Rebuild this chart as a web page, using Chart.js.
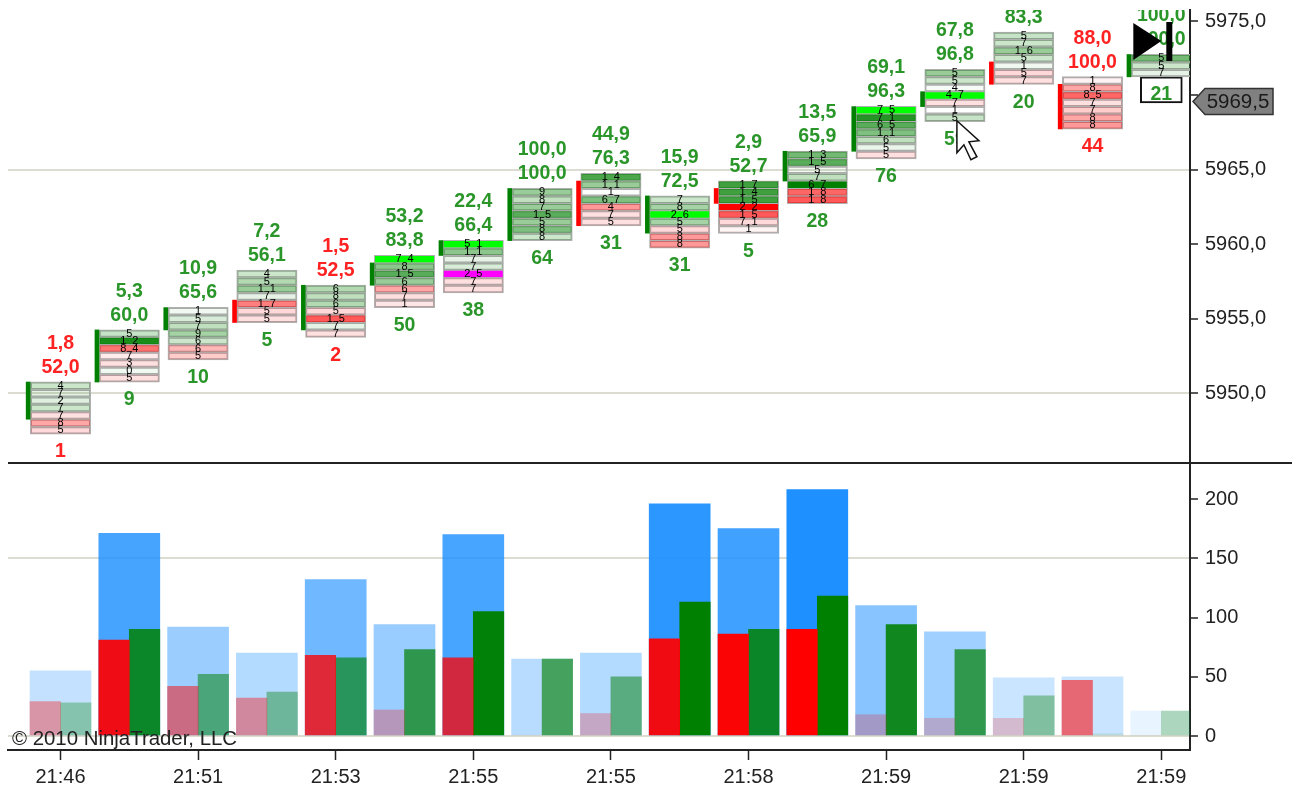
<!DOCTYPE html>
<html><head><meta charset="utf-8">
<style>html,body{margin:0;padding:0;background:#fff;overflow:hidden}canvas{display:block;filter:blur(0.45px)}</style>
<script src="https://cdn.jsdelivr.net/npm/chart.js@4"></script></head>
<body><canvas id="c" width="1292" height="787"></canvas>
<script>
const timeTicks=['21:46','21:51','21:53','21:55','21:55','21:58','21:59','21:59','21:59'];
const priceStep=0.5;
const lastPrice=5969.5;
const topCell=[5950.5,5954,5955.5,5958,5957,5959,5960,5963.5,5964.5,5963,5964,5966,5969,5971.5,5974,5971,5972.5];
const cellShades=[
[.2,.1,.12,.2,-.12,-.35,-.15],
[.22,.9,-.55,-.08,-.12,.05,-.12],
[.05,.15,.25,.35,.2,-.28,-.2],
[.2,.3,.4,.1,-.5,-.15,-.12],
[.3,.25,.3,-.15,-.65,.1,-.12],
['L',.45,.65,.4,-.35,-.12,-.1],
['L',.45,.1,.15,'M',-.12,-.12],
[.4,.25,.4,.65,.4,.5,.2],
[.7,.4,.02,.5,-.4,-.12,-.12],
[.2,.35,'L',.35,-.15,-.4,-.4],
[.75,.75,.75,-1,-.65,-.15,-.04],
[.55,.65,.05,.25,1,-.6,-.65],
['L',.85,.65,.5,.25,.08,-.12],
[.4,.2,.03,'L',-.12,0,.22],
[.22,.2,.4,.2,.06,-.15,-.12],
[-.05,-.35,-.6,-.12,-.2,-.35,-.4],
[.55,.2,.1]];
const cellDigits=[
['4','7','2','7','7','8','5'],
['5','1 2','8 4','7','3','0','5'],
['1','5','7','9','6','6','5'],
['4','5','1 1','7','1 7','5','5'],
['6','8','6','5','1 5','7','7'],
['7 4','8','1 5','6','6','7','1'],
['5 1','1 1','7','7','2 5','7','7'],
['9','8','7','1 5','5','8','8'],
['1 4','1 1','1','6 7','4','7','5'],
['7','8','2 6','5','5','8','8'],
['1 7','1 4','1 5','2 2','1 5','7 1','1'],
['1 3','1 5','5','7','6 7','1 8','1 8'],
['7 5','7 1','6 5','1 1','6','5','5'],
['5','5','4','4 7','7','1','5'],
['5','7','1 6','5','1','5','7'],
['1','8','8 5','7','7','8','8'],
['5','5','7']];
const bodyTop=[5950.75,5954.25,5955.75,5956.25,5957.25,5958.75,5960.25,5963.75,5964.25,5963.25,5963.75,5966.25,5969.25,5970.25,5972.25,5970.75,5972.75];
const bodyBottom=[5948.25,5950.75,5954.25,5954.75,5954.25,5957.25,5959.25,5960.25,5961.25,5960.75,5962.75,5964.25,5966.25,5969.25,5970.75,5967.75,5971.25];
const bodyRed=[0,0,0,1,0,0,0,0,1,0,1,0,0,0,1,1,0];
const labelTop=['1,8','5,3','10,9','7,2','1,5','53,2','22,4','100,0','44,9','15,9','2,9','13,5','69,1','67,8','','88,0','100,0'];
const labelMid=['52,0','60,0','65,6','56,1','52,5','83,8','66,4','100,0','76,3','72,5','52,7','65,9','96,3','96,8','83,3','100,0','100,0'];
const labelLow=['1','9','10','5','2','50','38','64','31','31','5','28','76','59','20','44','21'];
const labelRed=[1,0,0,0,1,0,0,0,0,0,0,0,0,0,0,1,0];
const volTotal=[55,171,92,70,132,94,170,65,70,196,175,208,110,88,49,50,21];
const volRed=[29,81,42,32,68,22,66,1,19,82,86,90,18,15,15,47,0];
const volGreen=[28,90,52,37,66,73,105,65,50,113,90,118,94,73,34,2,21];

const greenA=a=>`rgba(0,128,0,${a})`, redA=a=>`rgba(255,0,0,${a})`;
function shade(s){ if(s==='L')return '#00ff00'; if(s==='M')return '#ff00ff'; return s>=0?greenA(s):redA(-s); }
const cap=v=>Math.min(1,v);
const cells=[],cellFill=[];
topCell.forEach((p,i)=>cellShades[i].forEach((s,k)=>{const c=p-k*priceStep;cells.push({x:i,y:[c-priceStep/2,c+priceStep/2]});cellFill.push(shade(s));}));
const xIdx=topCell.map((_,i)=>i);

const overlay={id:'overlay',
 afterDatasetsDraw(ch){
  const {ctx,chartArea:a,scales:{x,yP,yV}}=ch;
  const X=v=>x.getPixelForValue(v),P=v=>yP.getPixelForValue(v);
  ctx.save();
  ctx.beginPath();ctx.rect(a.left,a.top,a.right-a.left,yP.bottom-a.top);ctx.clip();
  ctx.textAlign='center';ctx.textBaseline='middle';
  ctx.fillStyle='#000';ctx.font='11px "Liberation Sans"';
  topCell.forEach((p,i)=>cellDigits[i].forEach((t,k)=>{
   const y=P(p-k*priceStep),d=t.split(' ');
   if(d.length>1){ctx.fillText(d[0],X(i)-6,y);ctx.fillText(d[1],X(i)+6,y);}
   else ctx.fillText(t,X(i),y);
  }));
  ctx.font='bold 19.5px "Liberation Sans"';
  topCell.forEach((p,i)=>{
   ctx.fillStyle=labelRed[i]?'#ff2222':'#2a962a';
   const t=P(p+priceStep/2),b=P(p-(cellShades[i].length-.5)*priceStep);
   const cx=X(i);
   if(labelTop[i])ctx.fillText(labelTop[i],cx,t-38.5);
   ctx.fillText(labelMid[i],cx,t-14.5);
   ctx.fillText(labelLow[i],cx,b+18);
  });
  const cxx=X(13)+2,cy=P(topCell[13]-6*priceStep)+3;
  const arrow=[[0,0],[22,20],[12,21],[20,36],[14,39],[7,24],[0,32]];
  ctx.beginPath();arrow.forEach(([u,v],j)=>j?ctx.lineTo(cxx+u,cy+v):ctx.moveTo(cxx+u,cy+v));ctx.closePath();
  ctx.fillStyle='#fff';ctx.fill();ctx.strokeStyle='#111';ctx.lineWidth=1.5;ctx.stroke();
  const gx=X(16),gy=P(5975);
  ctx.fillStyle='#000';
  ctx.beginPath();ctx.moveTo(gx-28,gy+2);ctx.lineTo(gx-28,gy+39);ctx.lineTo(gx+0,gy+20);ctx.closePath();ctx.fill();
  ctx.fillRect(gx+5,gy+1,6,39);
  ctx.restore();
  ctx.save();
  ctx.fillStyle='#222';ctx.font='20.4px "Liberation Sans"';ctx.textAlign='left';ctx.textBaseline='middle';
  ctx.fillText('© 2010 NinjaTrader, LLC',12,yV.getPixelForValue(0)+3);
  ctx.strokeStyle='#222';ctx.lineWidth=2;ctx.beginPath();ctx.moveTo(a.left,yP.bottom);ctx.lineTo(ch.width,yP.bottom);ctx.stroke();
  const ty=P(lastPrice)-1.5,L=a.right+3;
  ctx.beginPath();ctx.moveTo(L,ty);ctx.lineTo(L+12,ty-13);ctx.lineTo(L+80,ty-13);ctx.lineTo(L+80,ty+13);ctx.lineTo(L+12,ty+13);ctx.closePath();
  ctx.fillStyle='#808080';ctx.fill();ctx.strokeStyle='#333';ctx.lineWidth=1.5;ctx.stroke();
  ctx.fillStyle='#1a1a1a';ctx.font='20.5px "Liberation Sans"';ctx.textAlign='center';
  ctx.fillText(lastPrice.toFixed(1).replace('.',','),L+45,ty+1);
  ctx.restore();
 }};

const barBase={grouped:false,borderSkipped:false,xAxisID:'x'};
const noPadY=s=>{s.width=102;s.paddingTop=0;s.paddingBottom=0;};
new Chart(document.getElementById('c'),{
 type:'bar',
 data:{datasets:[
  {...barBase,label:'Total volume',yAxisID:'yV',order:6,barThickness:61,
   data:xIdx.map(i=>({x:i,y:volTotal[i]})),
   backgroundColor:volTotal.map(v=>`rgba(30,144,255,${cap(Math.max(.1,v/208))})`),borderWidth:0},
  {...barBase,label:'Sell volume',yAxisID:'yV',order:5,barThickness:30.5,
   data:xIdx.map(i=>({x:i-.2217,y:volRed[i]})),
   backgroundColor:volRed.map(v=>redA(cap(v/90+.02))),borderWidth:0},
  {...barBase,label:'Buy volume',yAxisID:'yV',order:5,barThickness:30.5,
   data:xIdx.map(i=>({x:i+.2217,y:volGreen[i]})),
   backgroundColor:volGreen.map(v=>greenA(cap(v/118+.08))),borderWidth:0},
  {...barBase,label:'Last price box',yAxisID:'yP',order:4,barThickness:42,
   data:[{x:16,y:[lastPrice,bodyBottom[16]]}],backgroundColor:'#fff',borderColor:'#111',borderWidth:2},
  {...barBase,label:'Cells',yAxisID:'yP',order:3,barThickness:60,inflateAmount:.5,
   data:cells,backgroundColor:cellFill,borderColor:'#b0b0b0',borderWidth:1},
  {...barBase,label:'Body',yAxisID:'yP',order:2,barThickness:4,
   data:xIdx.map(i=>({x:i-.47,y:[bodyBottom[i],bodyTop[i]]})),
   backgroundColor:bodyRed.map(r=>r?'#ff0000':'#008000'),borderWidth:0}
 ]},
 plugins:[overlay],
 options:{responsive:false,animation:false,
  layout:{padding:{left:8,top:10,right:0,bottom:0}},
  plugins:{legend:{display:false},tooltip:{enabled:false}},
  scales:{
   x:{type:'linear',position:'bottom',offset:false,min:-.763,max:16.417,
    afterBuildTicks(s){s.ticks=timeTicks.map((_,k)=>({value:k*2}));},
    afterFit(s){s.height=37;s.paddingLeft=0;s.paddingRight=0;},
    grid:{offset:false,drawOnChartArea:false,tickLength:10,tickColor:'#222',tickWidth:1.5},
    border:{color:'#222',width:2},
    ticks:{autoSkip:false,maxRotation:0,padding:5,color:'#222',font:{family:'"Liberation Sans"',size:20},
     callback:v=>timeTicks[v/2]}},
   yP:{type:'linear',position:'right',stack:'p',stackWeight:453,min:5945.31,max:5975.74,
    afterFit:noPadY,
    grid:{color:c=>(c.tick&&c.tick.value%15===10)?'#dcdcd0':'rgba(0,0,0,0)',lineWidth:2,tickLength:8,tickColor:'#222',tickWidth:1.5},
    border:{color:'#222',width:2},
    ticks:{stepSize:5,includeBounds:false,padding:7,color:'#222',font:{family:'"Liberation Sans"',size:20},
     callback:v=>v===5970?'':v.toFixed(1).replace('.',',')}},
   yV:{type:'linear',position:'right',stack:'p',stackWeight:287,min:-11.8,max:230.4,
    afterFit:noPadY,
    grid:{color:c=>(c.tick&&c.tick.value%150===0)?'#dcdcd0':'rgba(0,0,0,0)',lineWidth:2,tickLength:8,tickColor:'#222',tickWidth:1.5},
    border:{color:'#222',width:2},
    ticks:{stepSize:50,includeBounds:false,padding:7,color:'#222',font:{family:'"Liberation Sans"',size:20}}}
  }}
});
</script></body></html>
